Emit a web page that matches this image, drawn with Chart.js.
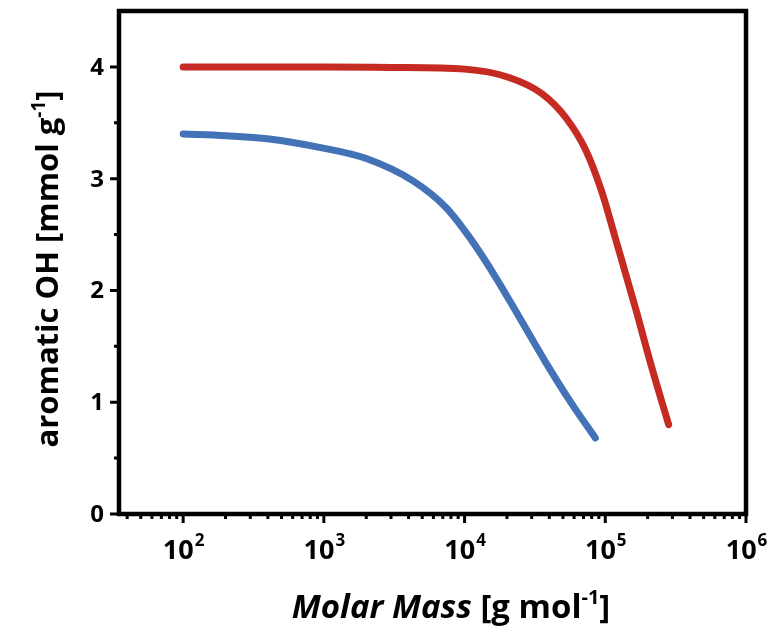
<!DOCTYPE html>
<html>
<head>
<meta charset="utf-8">
<script src="https://cdn.jsdelivr.net/npm/chart.js@4.4.1/dist/chart.umd.min.js"></script>
<style>
html,body{margin:0;padding:0;background:#fff;}
#c{display:block;}
</style>
</head>
<body>
<canvas id="c" width="773" height="629"></canvas>
<script>
// Data
const redMass = [100, 300, 1000, 3000, 10000, 20700, 35500, 52500, 73000, 94000, 119000, 164000, 214000, 282000];
const redOH   = [4.00, 4.00, 4.00, 3.995, 3.98, 3.905, 3.76, 3.545, 3.25, 2.89, 2.45, 1.84, 1.31, 0.80];
const blueMass = [100, 200, 410, 930, 2000, 4300, 7400, 11200, 16600, 24500, 38000, 57500, 85000];
const blueOH   = [3.40, 3.385, 3.355, 3.28, 3.18, 2.98, 2.74, 2.45, 2.12, 1.76, 1.35, 0.99, 0.68];
const xMajor = [100, 1000, 10000, 100000, 1000000];
const xExp = ['2', '3', '4', '5', '6'];
const yMajor = [0, 1, 2, 3, 4];
const yLabels = ['0', '1', '2', '3', '4'];
const yMinor = [0.5, 1.5, 2.5, 3.5];

const FONT = '"Open Sans", "Liberation Sans", sans-serif';

const decor = {
  id: 'decor',
  afterDraw(chart) {
    const ctx = chart.ctx;
    const a = chart.chartArea;
    const xs = chart.scales.x, ys = chart.scales.y;
    ctx.save();
    ctx.strokeStyle = '#000';
    ctx.fillStyle = '#000';
    // frame
    ctx.lineWidth = 4.5;
    ctx.strokeRect(a.left, a.top, a.right - a.left, a.bottom - a.top);
    // y ticks
    ctx.lineWidth = 3;
    ctx.beginPath();
    yMajor.forEach(v => { const p = ys.getPixelForValue(v); ctx.moveTo(a.left - 9, p); ctx.lineTo(a.left, p); });
    yMinor.forEach(v => { const p = ys.getPixelForValue(v); ctx.moveTo(a.left - 5, p); ctx.lineTo(a.left, p); });
    // x ticks
    xMajor.forEach(v => { const p = xs.getPixelForValue(v); ctx.moveTo(p, a.bottom); ctx.lineTo(p, a.bottom + 9); });
    for (let e = 1; e <= 5; e++) {
      for (let k = 2; k <= 9; k++) {
        const v = k * Math.pow(10, e);
        if (v < xs.min || v > xs.max) continue;
        const p = xs.getPixelForValue(v);
        ctx.moveTo(p, a.bottom); ctx.lineTo(p, a.bottom + 5);
      }
    }
    ctx.stroke();
    // y tick labels
    ctx.font = '700 24px ' + FONT;
    ctx.textAlign = 'right';
    ctx.textBaseline = 'middle';
    yMajor.forEach((v, i) => {
      const p = ys.getPixelForValue(v);
      ctx.fillText(yLabels[i], a.left - 15, p + 1);
    });
    // x tick labels 10^n
    ctx.textAlign = 'left';
    ctx.textBaseline = 'alphabetic';
    xMajor.forEach((v, i) => {
      const p = xs.getPixelForValue(v);
      ctx.font = '700 27px ' + FONT;
      const w1 = ctx.measureText('10').width;
      ctx.font = '700 17px ' + FONT;
      const w2 = ctx.measureText(xExp[i]).width;
      const x0 = p - (w1 + w2) / 2;
      ctx.font = '700 27px ' + FONT;
      ctx.fillText('10', x0, 559);
      ctx.font = '700 17px ' + FONT;
      ctx.fillText(xExp[i], x0 + w1 + 1, 546);
    });
    // x title
    const parts = [
      {t: 'Molar Mass', f: 'italic 700 33px ' + FONT, dy: 0},
      {t: ' [g mol', f: '700 33px ' + FONT, dy: 0},
      {t: '-1', f: '700 20px ' + FONT, dy: -14},
      {t: ']', f: '700 33px ' + FONT, dy: 0}
    ];
    let total = 0;
    parts.forEach(p => { ctx.font = p.f; p.w = ctx.measureText(p.t).width; total += p.w; });
    let x = 451 - total / 2;
    parts.forEach(p => { ctx.font = p.f; ctx.fillText(p.t, x, 618 + p.dy); x += p.w; });
    // y title
    ctx.translate(58, 269);
    ctx.rotate(-Math.PI / 2);
    const yparts = [
      {t: 'aromatic OH [mmol g', f: '700 31px ' + FONT, dy: 0},
      {t: '-1', f: '700 19px ' + FONT, dy: -13},
      {t: ']', f: '700 31px ' + FONT, dy: 0}
    ];
    total = 0;
    yparts.forEach(p => { ctx.font = p.f; p.w = ctx.measureText(p.t).width; total += p.w; });
    x = -total / 2;
    yparts.forEach(p => { ctx.font = p.f; ctx.fillText(p.t, x, p.dy); x += p.w; });
    ctx.restore();
  }
};

new Chart(document.getElementById('c'), {
  type: 'line',
  data: {
    datasets: [
      {
        label: 'red',
        data: redMass.map((m, i) => ({x: m, y: redOH[i]})),
        borderColor: '#C62B23',
        borderWidth: 7,
        borderCapStyle: 'round',
        borderJoinStyle: 'round',
        pointRadius: 0,
        cubicInterpolationMode: 'monotone',
        fill: false
      },
      {
        label: 'blue',
        data: blueMass.map((m, i) => ({x: m, y: blueOH[i]})),
        borderColor: '#4373B6',
        borderWidth: 7,
        borderCapStyle: 'round',
        borderJoinStyle: 'round',
        pointRadius: 0,
        cubicInterpolationMode: 'monotone',
        fill: false
      }
    ]
  },
  options: {
    responsive: false,
    animation: false,
    devicePixelRatio: 1,
    layout: {padding: {top: 11, right: 27, left: 0, bottom: 0}},
    plugins: {legend: {display: false}, tooltip: {enabled: false}},
    scales: {
      x: {
        type: 'logarithmic',
        min: 35,
        max: 1000000,
        grid: {display: false},
        border: {display: false},
        ticks: {display: false},
        afterFit: s => { s.height = 115; }
      },
      y: {
        type: 'linear',
        min: 0,
        max: 4.5,
        grid: {display: false},
        border: {display: false},
        ticks: {display: false},
        afterFit: s => { s.width = 119; }
      }
    }
  },
  plugins: [decor]
});
</script>
</body>
</html>
